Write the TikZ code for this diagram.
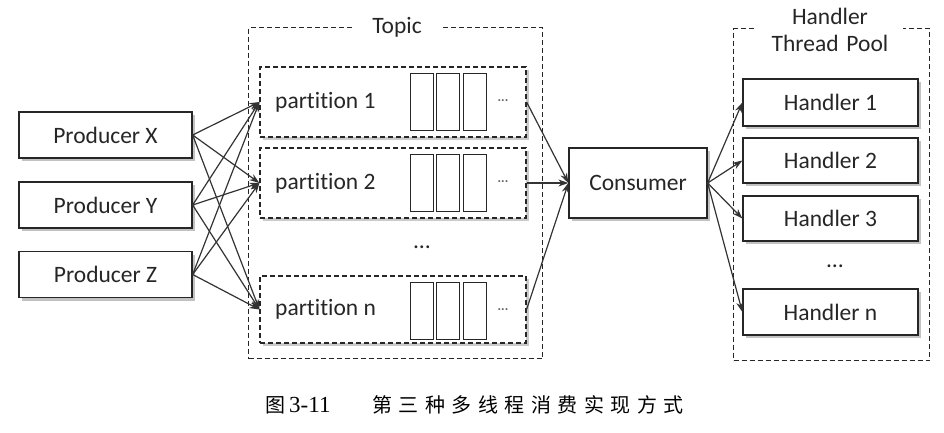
\documentclass[tikz,border=0pt]{standalone}
\usepackage{fontspec}
\setmainfont{Carlito}[Ligatures=CommonOff]
\newfontfamily\cjkfont{Noto Sans CJK SC}
\newfontfamily\capserif{Liberation Serif}
\usetikzlibrary{arrows.meta,shadows}
\newcommand{\cjs}{\hskip 6.5pt}
\begin{document}
\begin{tikzpicture}[x=1pt,y=-1pt,
  lbl/.style={font=\fontsize{23.5}{28}\selectfont, text=black!85},
  solidbox/.style={draw=black!85, line width=1.3pt, fill=white,
    drop shadow={shadow xshift=3pt, shadow yshift=-3pt, opacity=0.4, fill=black!60}},
  dashbox/.style={draw=black!85, line width=1.2pt, dash pattern=on 5pt off 3pt, fill=white,
    drop shadow={shadow xshift=3pt, shadow yshift=-3pt, opacity=0.35, fill=black!60}},
  poolbox/.style={draw=black!85, line width=1.3pt, dash pattern=on 5pt off 3pt},
  cell/.style={draw=black!85, line width=1.2pt, fill=white, minimum width=23pt, minimum height=57pt, inner sep=0pt},
  conn/.style={draw=black!80, line width=1.2pt, -{Stealth[length=10pt,width=7pt]}},
  dotsl/.style={font=\fontsize{14}{16}\selectfont, text=black!60}
]
\useasboundingbox (0,0) rectangle (944,432);

% containers
\node[poolbox, minimum width=294pt, minimum height=331pt, inner sep=0pt, anchor=north west] (topic) at (248,27) {};
\node[lbl, fill=white, inner xsep=20pt, inner ysep=2pt] (topiclbl) at (397,27) {Topic};
\node[poolbox, minimum width=196pt, minimum height=332pt, inner sep=0pt, anchor=north west] (pool) at (733,28) {};
\node[lbl, fill=white, align=center, inner xsep=14pt, inner ysep=1pt, text width=118pt] (poollbl) at (830,30) {Handler\\[-1pt]Thread Pool};

% producers
\node[solidbox, lbl, minimum width=173pt, minimum height=46pt, inner sep=0pt] (px) at (105.5,135) {Producer X};
\node[solidbox, lbl, minimum width=173pt, minimum height=46pt, inner sep=0pt] (py) at (105.5,205) {Producer Y};
\node[solidbox, lbl, minimum width=173pt, minimum height=46pt, inner sep=0pt] (pz) at (105.5,274.5) {Producer Z};

% partitions
\node[dashbox, minimum width=266pt, minimum height=70pt, inner sep=0pt] (pa) at (393,102) {};
\node[dashbox, minimum width=266pt, minimum height=70pt, inner sep=0pt] (pb) at (393,183) {};
\node[dashbox, minimum width=266pt, minimum height=67pt, inner sep=0pt] (pn) at (393,309.5) {};
\node[lbl, anchor=west, inner sep=0pt] (pat) at (275,102) {partition 1};
\node[lbl, anchor=west, inner sep=0pt] (pbt) at (275,183) {partition 2};
\node[lbl, anchor=west, inner sep=0pt] (pnt) at (275,309.5) {partition n};
\foreach \r/\y in {a/102, b/183, n/311} {
  \node[cell] (c\r1) at (422,\y) {};
  \node[cell] (c\r2) at (448,\y) {};
  \node[cell] (c\r3) at (475,\y) {};
  \node[dotsl] (d\r) at (503,\y) {···};
}
\node[lbl] (pdots) at (422,247) {…};

% consumer
\node[solidbox, lbl, minimum width=138pt, minimum height=70pt, inner sep=0pt] (cons) at (638,183) {Consumer};

% handlers
\node[solidbox, lbl, minimum width=175pt, minimum height=47pt, inner sep=0pt] (h1) at (830.5,102.5) {Handler 1};
\node[solidbox, lbl, minimum width=175pt, minimum height=45pt, inner sep=0pt] (h2) at (830.5,160.5) {Handler 2};
\node[solidbox, lbl, minimum width=175pt, minimum height=45pt, inner sep=0pt] (h3) at (830.5,218.5) {Handler 3};
\node[solidbox, lbl, minimum width=175pt, minimum height=46pt, inner sep=0pt] (hn) at (830.5,312) {Handler n};
\node[lbl] (hdots) at (835,266) {…};

% connectors
\foreach \p in {px,py,pz} {
  \foreach \q in {pa,pb,pn} {
    \draw[conn] (\p.east) -- (\q.west);
  }
}
\foreach \q in {pa,pb,pn} {
  \draw[conn] (\q.east) -- (cons.west);
}
\foreach \h in {h1,h2,h3,hn} {
  \draw[conn] (cons.east) -- (\h.west);
}

% caption
\node[anchor=west, inner sep=0pt, font=\fontsize{20}{24}\selectfont] (capa) at (265,405) {{\cjkfont 图}\hskip 4pt{\capserif\fontsize{23}{24}\selectfont 3-11}};
\node[anchor=west, inner sep=0pt, font=\fontsize{20}{24}\selectfont\cjkfont] (capb) at (372,405) {第\cjs 三\cjs 种\cjs 多\cjs 线\cjs 程\cjs 消\cjs 费\cjs 实\cjs 现\cjs 方\cjs 式};
\end{tikzpicture}
\end{document}
